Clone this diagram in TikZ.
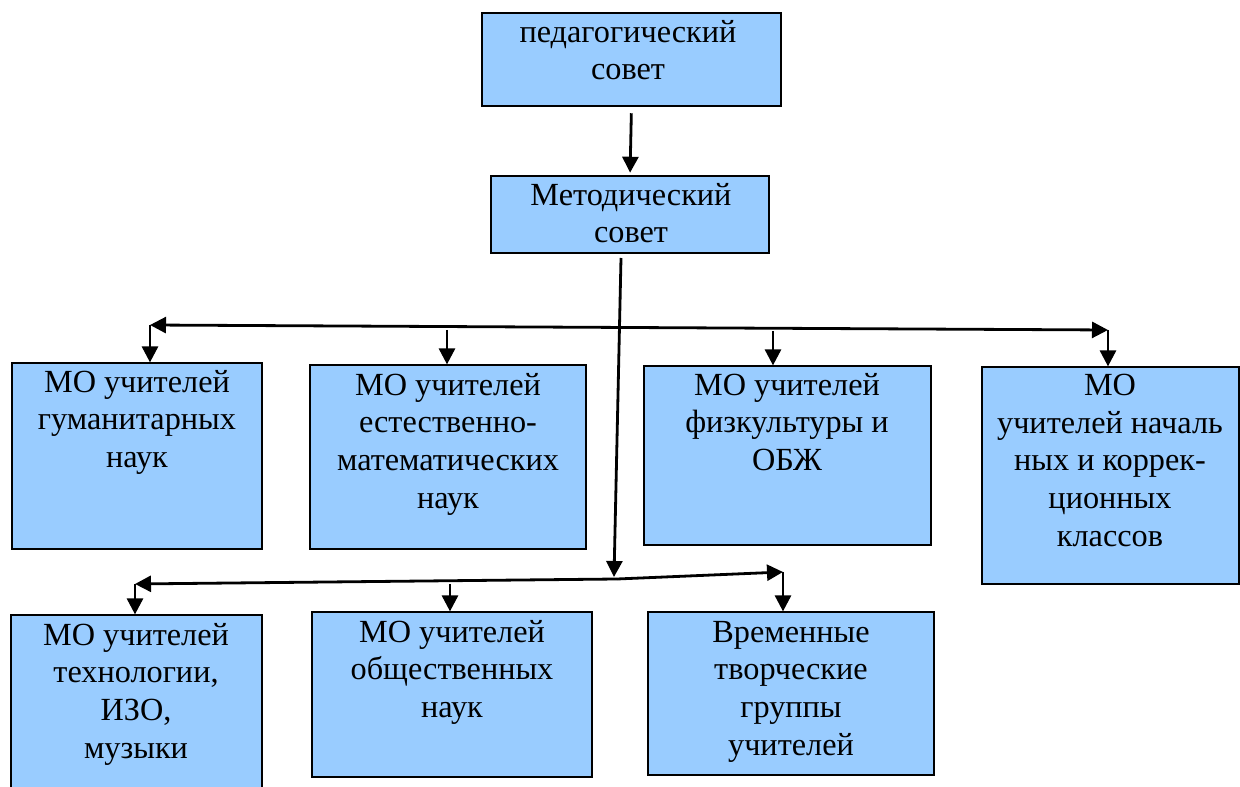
\documentclass[tikz,border=0pt]{standalone}
\usepackage{fontspec}
\setmainfont{Liberation Serif}
\usetikzlibrary{arrows.meta}

\begin{document}
\begin{tikzpicture}[x=0.75pt,y=0.75pt,yscale=-1,xscale=1,
  blok/.style={draw=black, line width=0.9pt, fill={rgb,255:red,153;green,204;blue,255}, inner sep=0pt},
  txt/.style={anchor=north, inner sep=0pt, align=center, font=\fontsize{24.2}{28.2}\selectfont},
  arr/.style={line width=2.1pt, -{Triangle[length=12pt,width=12pt]}},
  arrb/.style={line width=2.1pt, {Triangle[length=12pt,width=12pt]}-{Triangle[length=12pt,width=12pt]}}]
\useasboundingbox (0,0) rectangle (1240,787);

%Boxes
\node[blok, minimum width=224.25pt, minimum height=69.75pt] (ped) at (631.5,59.5) {};
\node[blok, minimum width=208.5pt, minimum height=57.75pt] (met) at (630,214.5) {};
\node[blok, minimum width=187.5pt, minimum height=139.5pt] (gum) at (137,456) {};
\node[blok, minimum width=207pt, minimum height=138pt] (est) at (448,457) {};
\node[blok, minimum width=215.25pt, minimum height=134.25pt] (fiz) at (787.5,455.5) {};
\node[blok, minimum width=192.75pt, minimum height=162.75pt] (nach) at (1110.5,475.5) {};
\node[blok, minimum width=188.25pt, minimum height=138.75pt] (tex) at (136.5,707.5) {};
\node[blok, minimum width=210pt, minimum height=123.75pt] (obs) at (452,694.5) {};
\node[blok, minimum width=214.5pt, minimum height=122.25pt] (vrem) at (791,693.5) {};

% Text Node
\node[txt] (pedT) at (628,20) {педагогический\\совет};
% Text Node
\node[txt] (metT) at (631,183) {Методический\\совет};
% Text Node
\node[txt] (gumT) at (137,370) {МО учителей\\гуманитарных\\наук};
% Text Node
\node[txt] (estT) at (448,373) {МО учителей\\естественно-\\математических\\наук};
% Text Node
\node[txt] (fizT) at (787,373) {МО учителей\\физкультуры и\\ОБЖ};
% Text Node
\node[txt] (nachT) at (1110,374) {МО\\учителей началь\\ных и коррек-\\ционных\\классов};
% Text Node
\node[txt] (texT) at (136,623) {МО учителей\\технологии,\\ИЗО,\\музыки};
% Text Node
\node[txt] (obsT) at (452,620) {МО учителей\\общественных\\наук};
% Text Node
\node[txt] (vremT) at (791,621) {Временные\\творческие\\группы\\учителей};

%Bus points
\coordinate (bl) at (150,325);
\coordinate (br) at (1108,330);
\coordinate (e1) at (447,330);
\coordinate (f1) at (773,331);
\coordinate (ms) at (621,258);
\coordinate (mb) at (614,577);
\coordinate (jn) at (617,579);
\coordinate (tl) at (135,584);
\coordinate (o1) at (450,584);
\coordinate (tr) at (783,572);

%Straight Lines
\draw[arr, shorten <=5pt, shorten >=2pt] (ped.south) -- (met.north);
\draw[arrb] (bl) -- (br);
\draw[arr] (bl) -- (bl |- gum.north);
\draw[arr] (e1) -- (e1 |- est.north);
\draw[arr] (f1) -- (f1 |- fiz.north);
\draw[arr] (br) -- (br |- nach.north);
\draw[arr] (ms) -- (mb);
\draw[arr] (jn) -- (tl);
\draw[arr] (jn) -- (tr);
\draw[arr] (tl) -- (tl |- tex.north);
\draw[arr] (o1) -- (o1 |- obs.north);
\draw[arr] (tr) -- (tr |- vrem.north);

\end{tikzpicture}
\end{document}
